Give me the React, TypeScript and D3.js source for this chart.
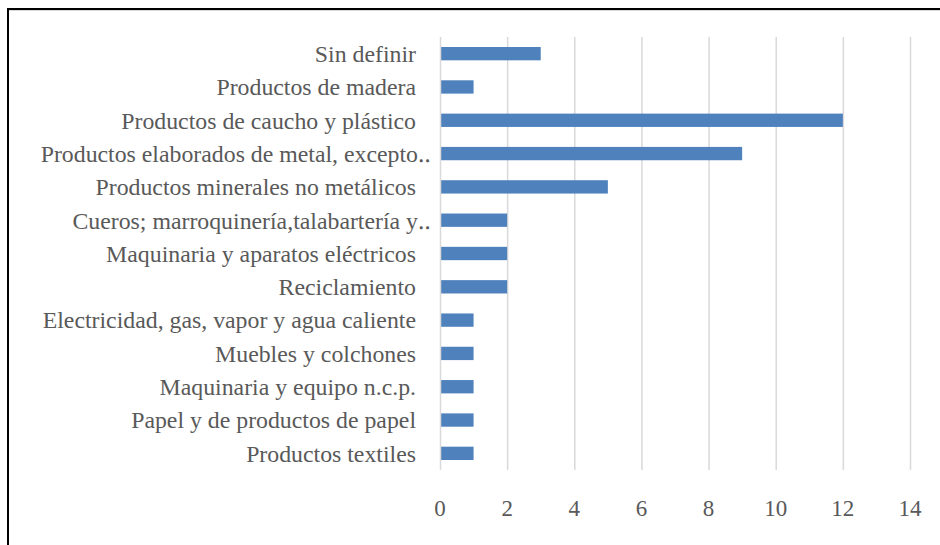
import React, { useEffect, useRef } from 'react';
import * as d3 from 'd3';

const categories = [
    'Sin definir',
    'Productos de madera',
    'Productos de caucho y plástico',
    'Productos elaborados de metal, excepto‥',
    'Productos minerales no metálicos',
    'Cueros; marroquinería,talabartería y‥',
    'Maquinaria y aparatos eléctricos',
    'Reciclamiento',
    'Electricidad, gas, vapor y agua caliente',
    'Muebles y colchones',
    'Maquinaria y equipo n.c.p.',
    'Papel y de productos de papel',
    'Productos textiles',
];
const values = [3, 1, 12, 9, 5, 2, 2, 2, 1, 1, 1, 1, 1];
const xTicks = [0, 2, 4, 6, 8, 10, 12, 14];

const App = () => {
    const chartRef = useRef<SVGSVGElement | null>(null);
    const width = 940;
    const height = 545;

    useEffect(() => {
        if (!chartRef.current) return;
        const svg = d3.select(chartRef.current);
        svg.selectAll('*').remove();

        const font = '"Liberation Serif", "Times New Roman", serif';

        // outer frame
        svg.append('rect')
            .attr('x', 8).attr('y', 9)
            .attr('width', 960).attr('height', 600)
            .attr('fill', 'white')
            .attr('stroke', '#000').attr('stroke-width', 2);
        svg.append('line')
            .attr('x1', 9).attr('x2', 940).attr('y1', 10.5).attr('y2', 10.5)
            .attr('stroke', '#d9d9d9').attr('stroke-width', 1);

        const x = d3.scaleLinear().domain([0, 14]).range([440, 910]);
        const y = d3.scaleBand().domain(categories).range([37, 470]).paddingInner(0.6).paddingOuter(0.3);

        // gridlines
        svg.append('g')
            .selectAll('line')
            .data(xTicks.slice(1))
            .join('line')
            .attr('x1', (d) => x(d) + 0.5)
            .attr('x2', (d) => x(d) + 0.5)
            .attr('y1', 37)
            .attr('y2', 470)
            .attr('stroke', '#d9d9d9')
            .attr('stroke-width', 1.5);

        // bars
        svg.append('g')
            .selectAll('rect')
            .data(values)
            .join('rect')
            .attr('x', x(0))
            .attr('y', (_, i) => y(categories[i])!)
            .attr('width', (d) => x(d) - x(0))
            .attr('height', y.bandwidth())
            .attr('fill', '#4f81bd');

        // category axis line
        svg.append('line')
            .attr('x1', x(0) + 0.5).attr('x2', x(0) + 0.5)
            .attr('y1', 37).attr('y2', 470)
            .attr('stroke', '#d9d9d9').attr('stroke-width', 1.5);

        // category labels
        svg.append('g')
            .selectAll('text')
            .data(categories)
            .join('text')
            .attr('x', (d) => (d.endsWith('‥') ? 431 : 416))
            .attr('y', (d) => y(d)! + y.bandwidth() / 2)
            .attr('dy', '0.35em')
            .attr('text-anchor', 'end')
            .attr('font-family', font)
            .attr('font-size', 23.8)
            .attr('fill', '#595959')
            .text((d) => d);

        // value tick labels
        svg.append('g')
            .selectAll('text')
            .data(xTicks)
            .join('text')
            .attr('x', (d) => x(d))
            .attr('y', 508)
            .attr('dy', '0.35em')
            .attr('text-anchor', 'middle')
            .attr('font-family', font)
            .attr('font-size', 23)
            .attr('fill', '#595959')
            .text((d) => d);
    }, []);

    return (
        <svg
            ref={chartRef}
            width={width}
            height={height}
            style={{ position: 'absolute', left: 0, top: 0, background: '#fff' }}
        ></svg>
    );
};

export default App;
